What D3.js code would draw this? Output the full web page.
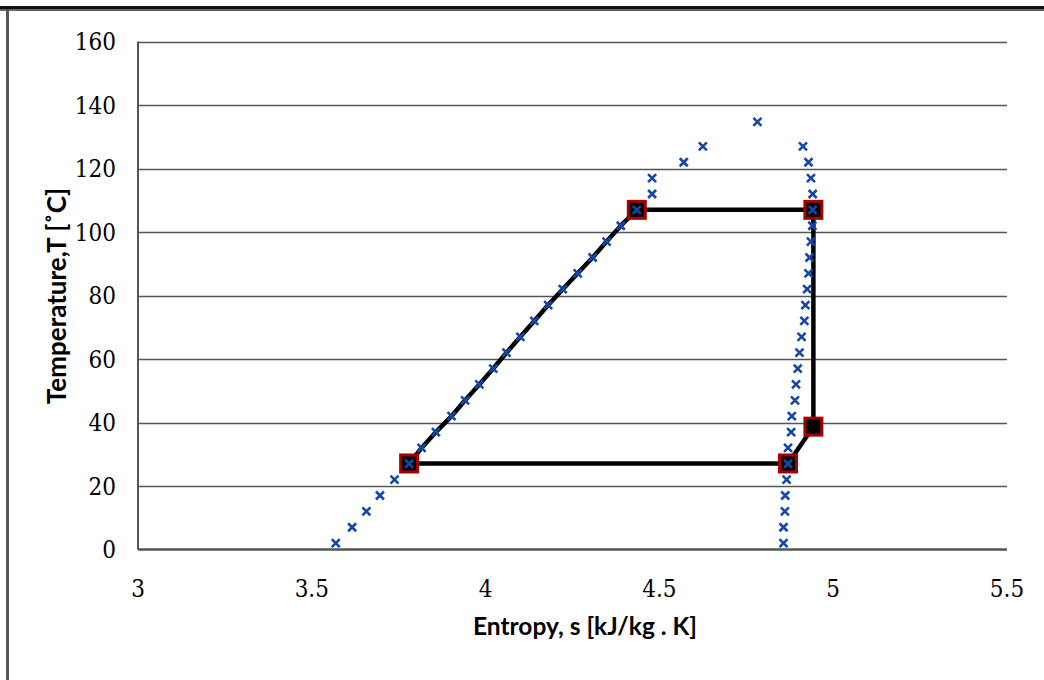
<!DOCTYPE html>
<meta charset="utf-8">
<style>
  body { margin: 0; background: #fff; }
  .tick-label { font-family: "DejaVu Serif", serif; font-stretch: condensed; font-size: 24px; fill: #000; }
  .axis-title { font-family: Lato, "Open Sans", sans-serif; font-weight: bold; fill: #000; }
</style>
<body>
<script src="https://d3js.org/d3.v7.min.js"></script>
<script>
// saturation dome
var domeT = [2, 7, 12, 17, 22, 27, 32, 37, 42, 47, 52, 57, 62, 67, 72, 77, 82, 87, 92, 97, 102, 107, 112, 117, 122, 127];
var liquidS = [3.569, 3.616, 3.657, 3.696, 3.738, 3.780, 3.816, 3.857, 3.902, 3.941, 3.982, 4.022, 4.060, 4.100,
               4.140, 4.180, 4.222, 4.265, 4.308, 4.348, 4.389, 4.435, 4.479, 4.479, 4.570, 4.625];
var vaporS = [4.857, 4.857, 4.861, 4.862, 4.866, 4.870, 4.870, 4.879, 4.881, 4.890, 4.893, 4.898, 4.903, 4.909,
              4.917, 4.920, 4.925, 4.929, 4.932, 4.936, 4.940, 4.941, 4.941, 4.936, 4.929, 4.913];
var criticalS = 4.782, criticalT = 134.7;

// cycle state points (square markers)
var stateS = [3.780, 4.435, 4.943, 4.943, 4.870];
var stateT = [27.1, 107, 107, 38.7, 27.1];

var xTicks = [3, 3.5, 4, 4.5, 5, 5.5];
var yTicks = [0, 20, 40, 60, 80, 100, 120, 140, 160];

var width = 1044, height = 680;

var x = d3.scaleLinear().domain([3, 5.5]).range([138, 1007]);
var y = d3.scaleLinear().domain([0, 160]).range([549.5, 41.6]);

var svg = d3.select("body").append("svg")
    .attr("width", width)
    .attr("height", height);

// outer frame (top and left edges only)
svg.append("rect").attr("x", 0).attr("y", 6).attr("width", width).attr("height", 3).attr("fill", "#111");
svg.append("rect").attr("x", 0).attr("y", 9).attr("width", width).attr("height", 2).attr("fill", "#666");
svg.append("rect").attr("x", 6).attr("y", 9).attr("width", 3).attr("height", height).attr("fill", "#555");

// gridlines
svg.append("g").selectAll("line")
    .data(yTicks.slice(1))
  .enter().append("line")
    .attr("x1", x(3)).attr("x2", x(5.5))
    .attr("y1", function(d) { return Math.round(y(d)) + 0.5; })
    .attr("y2", function(d) { return Math.round(y(d)) + 0.5; })
    .style("stroke", "#555")
    .style("stroke-width", 1.3);

// axes lines
svg.append("line")
    .attr("x1", x(3)).attr("x2", x(5.5))
    .attr("y1", y(0)).attr("y2", y(0))
    .style("stroke", "#555").style("stroke-width", 2.5);
svg.append("line")
    .attr("x1", x(3)).attr("x2", x(3))
    .attr("y1", y(160)).attr("y2", y(0))
    .style("stroke", "#555").style("stroke-width", 2);

// tick labels
svg.append("g").selectAll("text")
    .data(yTicks)
  .enter().append("text")
    .attr("class", "tick-label")
    .attr("x", 116)
    .attr("y", function(d) { return y(d); })
    .attr("dy", "0.36em")
    .attr("text-anchor", "end")
    .text(function(d) { return d; });

svg.append("g").selectAll("text")
    .data(xTicks)
  .enter().append("text")
    .attr("class", "tick-label")
    .attr("x", function(d) { return x(d); })
    .attr("y", 597)
    .attr("text-anchor", "middle")
    .text(function(d) { return d; });

// axis titles
svg.append("text")
    .attr("class", "axis-title")
    .attr("x", 585)
    .attr("y", 635)
    .attr("text-anchor", "middle")
    .style("font-size", "24.5px")
    .text("Entropy, s [kJ/kg . K]");

svg.append("text")
    .attr("class", "axis-title")
    .attr("transform", "translate(66,296) rotate(-90)")
    .attr("text-anchor", "middle")
    .style("font-size", "26px")
    .text("Temperature,T [˚C]");

// cycle path: 1 -> 2 along the liquid line, then across, down, back
var liquidRun = [];
domeT.forEach(function(t, i) {
  if (t > 27 && t < 107) liquidRun.push([liquidS[i], t]);
});
var cycle = [[stateS[4], stateT[4]], [stateS[0], stateT[0]]]
    .concat(liquidRun)
    .concat([[stateS[1], stateT[1]], [stateS[2], stateT[2]], [stateS[3], stateT[3]], [stateS[4], stateT[4]]]);

var line = d3.line()
    .x(function(d) { return x(d[0]); })
    .y(function(d) { return y(d[1]); });

svg.append("path")
    .datum(cycle)
    .attr("d", line)
    .style("fill", "none")
    .style("stroke", "#000")
    .style("stroke-width", 4.5)
    .style("stroke-linejoin", "round");

svg.append("g").selectAll("rect")
    .data(stateS)
  .enter().append("rect")
    .attr("x", function(d) { return x(d) - 8.5; })
    .attr("y", function(d, i) { return y(stateT[i]) - 8.5; })
    .attr("width", 17)
    .attr("height", 17)
    .style("fill", "#000")
    .style("stroke", "#a80000")
    .style("stroke-width", 3);

// dome markers
var dome = [];
domeT.forEach(function(t, i) { dome.push([liquidS[i], t]); });
domeT.forEach(function(t, i) { dome.push([vaporS[i], t]); });
dome.push([criticalS, criticalT]);

svg.append("g").selectAll("path")
    .data(dome)
  .enter().append("path")
    .attr("transform", function(d) { return "translate(" + x(d[0]) + "," + y(d[1]) + ")"; })
    .attr("d", "M-4,-4L4,4M4,-4L-4,4")
    .style("stroke", "#1448a8")
    .style("stroke-width", 2.6)
    .style("fill", "none");
</script>
</body>
</html>
